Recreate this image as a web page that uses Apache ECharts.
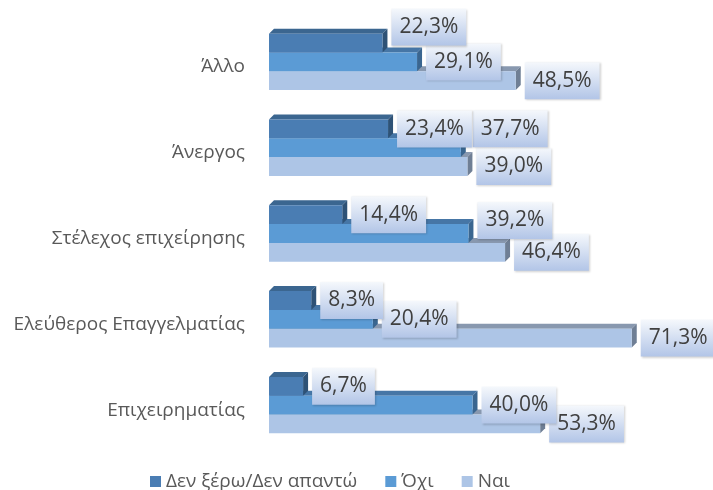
<!DOCTYPE html>
<html>
<head>
<meta charset="utf-8">
<script src="https://cdn.jsdelivr.net/npm/echarts@6/dist/echarts.min.js"></script>
<style>html,body{margin:0;padding:0;background:#fff}#c{width:713px;height:490px}</style>
</head>
<body>
<div id="c"></div>
<script>
const categories = ['Άλλο', 'Άνεργος', 'Στέλεχος επιχείρησης', 'Ελεύθερος Επαγγελματίας', 'Επιχειρηματίας'];
const seriesNames = ['Δεν ξέρω/Δεν απαντώ', 'Όχι', 'Ναι'];
const dontKnow = [22.3, 23.4, 14.4, 8.3, 6.7];
const no = [29.1, 37.7, 39.2, 20.4, 40.0];
const yes = [48.5, 39.0, 46.4, 71.3, 53.3];

const chart = echarts.init(document.getElementById('c'));
const FONT = '"Open Sans", "Noto Sans", sans-serif';
const DX = 5, DY = -5;
// label nudges (layout only) keyed "slot-category"
const nudges = { '-1-0': [0, -16], '0-1': [3, -19], '0-2': [0, -13] };

const styles = [
  { front: '#4a7db3', top: '#3b6690', side: '#2e5276' },
  { front: '#5b9bd5', top: '#4676a6', side: '#3a6690' },
  { front: '#adc5e6', top: '#8898af', side: '#6f7f95' }
];

function fmt(v) { return v.toFixed(1).replace('.', ',') + '%'; }

function makeSeries(name, values, slot, st) {
  return {
    type: 'custom',
    name: name,
    itemStyle: { color: st.front },
    encode: { x: 0, y: 1 },
    data: values.map((v, i) => [v, i]),
    renderItem: function (params, api) {
      const v = api.value(0), ci = api.value(1);
      const p0 = api.coord([0, ci]);
      const p1 = api.coord([v, ci]);
      const band = api.size([0, 1])[1];
      const h = band * 0.219;
      const cy = p0[1] - 5 + slot * h;
      const top = cy - h / 2;
      const x0 = p0[0], x1 = p1[0];
      const nd = nudges[slot + '-' + ci] || [0, 0];
      return {
        type: 'group',
        children: [
          { type: 'polygon', shape: { points: [[x0, top], [x0 + DX, top + DY], [x1 + DX, top + DY], [x1, top]] }, style: { fill: st.top } },
          { type: 'polygon', shape: { points: [[x1, top], [x1 + DX, top + DY], [x1 + DX, top + h + DY], [x1, top + h]] }, style: { fill: st.side } },
          { type: 'rect', shape: { x: x0, y: top, width: x1 - x0, height: h }, style: { fill: st.front } },
          {
            type: 'text', z2: 100,
            style: {
              x: x1 + 9 + nd[0], y: cy + nd[1],
              text: fmt(v),
              font: '21px ' + FONT,
              fill: '#404040',
              align: 'left', verticalAlign: 'middle',
              lineHeight: 21,
              padding: [8, 8, 8, 8],
              backgroundColor: new echarts.graphic.LinearGradient(0, 0, 0, 1, [
                { offset: 0, color: '#f5f8fc' },
                { offset: 1, color: '#b2c5e7' }
              ]),
              shadowColor: 'rgba(0,0,0,0.18)', shadowBlur: 2, shadowOffsetX: 1, shadowOffsetY: 1
            }
          }
        ]
      };
    }
  };
}

chart.setOption({
  animation: false,
  grid: { left: 269, width: 407, top: 24, height: 429 },
  xAxis: { type: 'value', min: 0, max: 80, show: false },
  yAxis: {
    type: 'category', data: categories, inverse: true,
    axisLine: { show: false }, axisTick: { show: false },
    axisLabel: { margin: 24, color: '#595959', fontSize: 19, fontFamily: FONT }
  },
  legend: {
    data: seriesNames, left: 145, top: 467,
    icon: 'rect', itemWidth: 11, itemHeight: 11, itemGap: 28,
    textStyle: { color: '#595959', fontSize: 19, fontFamily: FONT }
  },
  series: [
    makeSeries(seriesNames[2], yes, 1, styles[2]),
    makeSeries(seriesNames[1], no, 0, styles[1]),
    makeSeries(seriesNames[0], dontKnow, -1, styles[0])
  ]
});
</script>
</body>
</html>
